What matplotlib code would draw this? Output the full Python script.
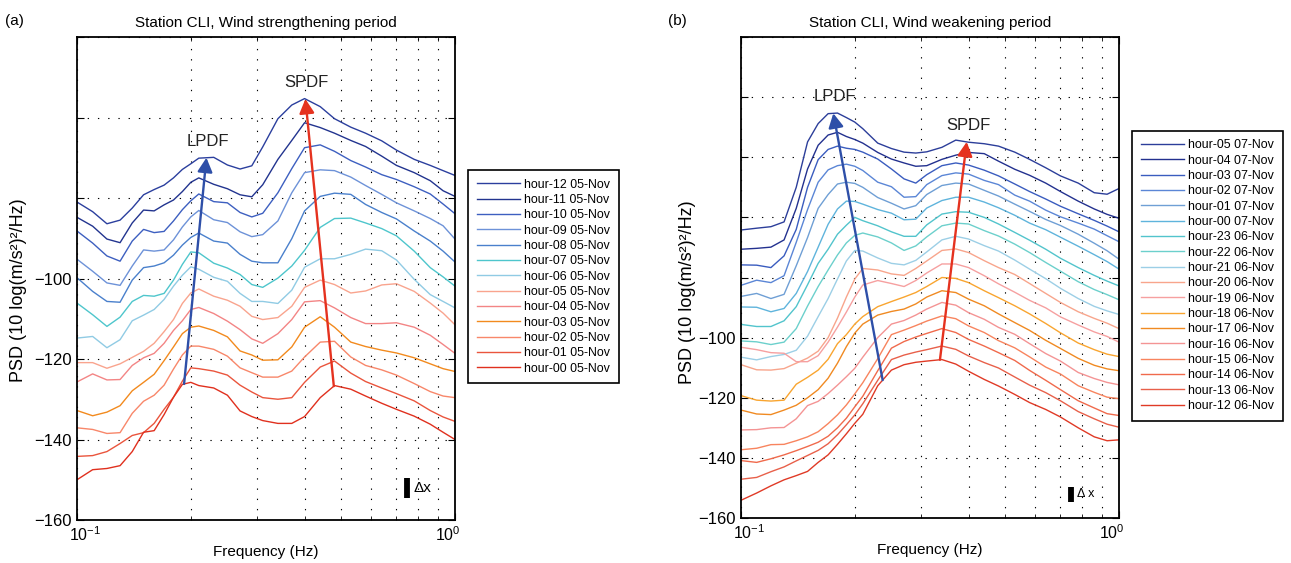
import numpy as np
import matplotlib
matplotlib.use('Agg')
import matplotlib.pyplot as plt
import matplotlib.transforms as mtransforms
from matplotlib.ticker import FixedLocator, FuncFormatter, NullFormatter

plt.rcParams['font.family'] = ['Liberation Sans', 'DejaVu Sans']
plt.rcParams['mathtext.default'] = 'regular'

# frequency grid (Hz)
freq = [0.10, 0.11, 0.12, 0.13, 0.14, 0.15, 0.16, 0.17, 0.18, 0.19, 0.20, 0.21, 0.23, 0.25, 0.27,
        0.29, 0.31, 0.34, 0.37, 0.40, 0.44, 0.48, 0.53, 0.58, 0.64, 0.70, 0.78, 0.86, 0.93, 1.00]

# ---- panel (a): wind strengthening, stacked PSD curves (dB) ----
a_h12 = [-81.0, -83.4, -86.4, -85.5, -82.5, -79.2, -77.9, -76.8, -75.0, -72.9, -71.5, -70.1, -69.9, -71.8, -72.8,
         -72.0, -67.3, -60.3, -56.9, -55.3, -57.3, -60.3, -62.4, -63.9, -65.8, -68.1, -70.4, -71.9, -73.2, -74.4]
a_h11 = [-84.8, -87.0, -90.2, -91.1, -86.2, -83.0, -83.2, -81.7, -80.5, -78.4, -76.1, -75.0, -76.6, -77.7, -79.2,
         -79.7, -76.7, -70.4, -65.7, -61.3, -62.5, -63.9, -65.7, -67.2, -69.6, -71.9, -73.7, -75.7, -78.2, -79.6]
a_h10 = [-88.2, -91.2, -94.4, -95.7, -90.7, -87.8, -88.6, -88.3, -85.7, -82.9, -80.7, -79.0, -80.9, -81.2, -83.6,
         -84.7, -83.8, -78.7, -72.7, -67.5, -66.8, -68.4, -70.7, -72.3, -74.2, -75.4, -77.2, -79.0, -81.5, -83.9]
a_h09 = [-95.2, -98.2, -101.1, -101.7, -96.9, -92.9, -93.2, -92.9, -90.4, -87.2, -84.7, -83.1, -85.4, -86.1, -88.4,
         -89.6, -89.1, -85.7, -78.7, -73.7, -73.0, -73.2, -74.8, -76.9, -79.1, -81.2, -83.2, -85.1, -86.9, -90.2]
a_h08 = [-99.8, -103.2, -105.7, -105.9, -100.4, -97.3, -96.9, -96.1, -94.2, -91.7, -89.8, -88.7, -90.7, -91.2, -94.0,
         -95.7, -96.1, -96.1, -90.1, -83.2, -79.6, -78.8, -79.1, -81.6, -83.6, -85.2, -88.2, -90.7, -93.2, -95.9]
a_h07 = [-106.1, -109.0, -111.9, -109.6, -105.7, -104.2, -104.4, -103.7, -100.4, -96.5, -93.4, -93.6, -96.2, -97.4, -99.0,
         -101.5, -102.2, -99.9, -96.9, -93.0, -87.3, -85.1, -85.0, -86.2, -87.6, -89.4, -93.2, -97.3, -99.6, -101.9]
a_h06 = [-114.8, -114.4, -117.2, -115.2, -110.5, -109.1, -107.7, -105.2, -101.9, -99.2, -97.1, -97.7, -99.7, -100.7, -103.7,
         -105.7, -105.7, -106.2, -102.9, -97.2, -95.1, -95.1, -94.0, -92.7, -93.1, -95.4, -100.2, -104.0, -105.7, -107.3]
a_h05 = [-120.9, -120.9, -122.3, -121.2, -119.6, -118.1, -116.1, -113.2, -110.2, -106.2, -103.6, -102.6, -104.4, -105.4, -106.9,
         -109.4, -110.2, -109.7, -106.9, -102.2, -100.4, -101.5, -103.6, -103.1, -101.6, -101.3, -103.2, -106.1, -108.6, -111.5]
a_h04 = [-125.7, -123.7, -125.2, -125.1, -121.6, -119.7, -118.6, -116.1, -112.9, -110.5, -107.7, -107.2, -108.7, -110.6, -112.7,
         -115.0, -116.1, -113.7, -110.2, -105.8, -105.5, -107.3, -109.7, -111.2, -111.2, -111.0, -112.1, -114.1, -116.4, -118.6]
a_h03 = [-132.8, -134.1, -133.2, -131.6, -127.9, -125.8, -123.8, -120.4, -117.0, -113.7, -112.1, -111.8, -112.9, -114.5, -118.0,
         -119.0, -120.3, -120.2, -117.0, -112.1, -109.5, -112.1, -115.8, -116.9, -117.8, -118.5, -119.7, -121.2, -122.4, -123.1]
a_h02 = [-137.1, -137.5, -138.5, -138.3, -133.5, -130.5, -129.0, -126.5, -122.5, -119.0, -116.8, -116.8, -117.6, -119.3, -122.2,
         -123.4, -124.5, -124.5, -123.0, -119.5, -115.8, -115.6, -119.5, -121.6, -122.7, -124.0, -126.1, -128.1, -129.2, -129.6]
a_h01 = [-144.2, -144.0, -143.0, -141.0, -139.0, -138.3, -136.0, -132.5, -129.5, -125.5, -122.2, -122.4, -123.0, -124.0, -126.5,
         -128.2, -129.6, -130.0, -129.6, -125.8, -122.0, -120.5, -123.5, -125.6, -127.2, -128.6, -130.4, -132.8, -134.4, -135.5]
a_h00 = [-150.0, -147.5, -147.2, -146.5, -143.0, -138.2, -137.8, -133.8, -129.5, -126.3, -125.8, -126.6, -127.2, -129.0, -132.9,
         -134.3, -135.3, -136.0, -136.0, -134.3, -129.6, -126.6, -127.5, -129.2, -131.0, -132.5, -134.2, -136.2, -138.2, -140.0]

curves_a = [a_h12, a_h11, a_h10, a_h09, a_h08, a_h07, a_h06, a_h05, a_h04, a_h03, a_h02, a_h01, a_h00]
labels_a = ['hour-12 05-Nov', 'hour-11 05-Nov', 'hour-10 05-Nov', 'hour-09 05-Nov', 'hour-08 05-Nov',
            'hour-07 05-Nov', 'hour-06 05-Nov', 'hour-05 05-Nov', 'hour-04 05-Nov', 'hour-03 05-Nov',
            'hour-02 05-Nov', 'hour-01 05-Nov', 'hour-00 05-Nov']
colors_a = ['#2b3f9e', '#22348f', '#3d5fc0', '#6d92d8', '#4a80cc', '#4ec6cc', '#90cbe4',
            '#f9a48e', '#f38585', '#f28a1e', '#f8876a', '#ea553d', '#e0301e']

# ---- panel (b): wind weakening ----
b_h05 = [-64.2, -63.6, -63.1, -61.5, -50.0, -34.9, -28.8, -25.5, -25.3, -26.8, -28.3, -30.5, -35.3, -37.1, -38.3,
         -38.6, -38.2, -36.7, -34.3, -35.0, -35.5, -36.3, -38.3, -40.7, -43.5, -46.2, -48.6, -51.8, -52.3, -50.4]
b_h04 = [-70.6, -70.3, -69.9, -67.5, -57.0, -43.9, -36.0, -32.6, -31.7, -33.1, -34.1, -35.3, -38.4, -40.6, -41.9,
         -43.0, -42.8, -40.7, -39.3, -38.4, -38.8, -41.3, -44.0, -46.0, -48.6, -51.4, -54.6, -57.2, -59.0, -60.3]
b_h03 = [-75.8, -75.9, -76.7, -72.8, -64.0, -50.0, -40.8, -37.4, -36.3, -37.0, -37.4, -38.3, -40.6, -43.9, -47.2,
         -48.6, -45.8, -42.8, -41.9, -42.6, -44.3, -46.2, -48.9, -51.4, -53.9, -56.3, -58.8, -61.0, -62.9, -64.8]
b_h02 = [-82.6, -80.9, -81.7, -79.4, -68.3, -57.4, -48.3, -44.2, -42.8, -42.3, -43.0, -44.4, -48.3, -49.8, -53.3,
         -53.1, -49.1, -46.1, -45.2, -45.6, -47.7, -49.1, -52.6, -54.6, -57.6, -59.8, -61.9, -63.9, -66.1, -68.1]
b_h01 = [-86.3, -85.3, -87.0, -85.6, -76.1, -66.7, -57.0, -52.4, -48.9, -48.3, -48.7, -50.0, -53.4, -55.3, -57.2,
         -56.1, -52.4, -49.4, -48.6, -48.9, -51.0, -52.9, -55.6, -58.0, -60.7, -62.7, -65.6, -68.6, -71.1, -73.9]
b_h00 = [-89.8, -89.9, -91.4, -90.3, -85.3, -78.0, -69.9, -62.3, -57.2, -54.6, -54.7, -55.6, -57.4, -58.6, -60.8,
         -60.6, -56.9, -54.4, -53.3, -53.3, -54.9, -56.8, -59.3, -61.9, -64.1, -66.6, -69.6, -72.4, -74.7, -77.2]
b_h23 = [-95.6, -96.3, -96.3, -94.4, -89.7, -82.4, -75.3, -70.6, -65.6, -62.6, -60.0, -61.1, -62.8, -64.8, -66.3,
         -66.3, -62.5, -58.9, -58.1, -58.3, -60.0, -62.2, -65.0, -67.6, -70.6, -73.6, -76.7, -79.3, -81.2, -82.8]
b_h22 = [-101.1, -101.4, -102.3, -101.5, -97.0, -89.5, -83.0, -77.5, -72.5, -68.5, -66.0, -65.2, -66.5, -68.5, -71.0,
         -69.5, -66.5, -62.8, -61.9, -62.2, -64.4, -66.2, -68.9, -71.7, -75.0, -77.9, -81.4, -84.0, -85.7, -87.4]
b_h21 = [-106.5, -107.4, -106.3, -105.6, -104.2, -99.5, -93.0, -87.0, -80.5, -74.5, -71.0, -71.2, -73.5, -75.3, -75.8,
         -74.3, -71.5, -67.5, -66.3, -67.2, -69.4, -71.2, -74.2, -77.2, -80.4, -83.6, -87.0, -89.6, -91.1, -92.3]
b_h20 = [-109.0, -110.7, -110.8, -110.3, -108.5, -106.8, -104.5, -100.0, -93.5, -86.5, -80.5, -77.0, -77.5, -78.8, -79.3,
         -77.0, -74.5, -71.0, -70.5, -71.7, -74.4, -76.7, -79.0, -82.0, -85.3, -88.3, -91.4, -93.6, -95.2, -97.0]
b_h19 = [-103.2, -104.0, -105.0, -105.2, -108.0, -108.0, -106.0, -101.5, -96.5, -91.5, -86.5, -82.5, -81.0, -82.0, -83.0,
         -81.0, -78.5, -75.5, -75.5, -76.7, -79.4, -82.1, -84.9, -87.6, -90.1, -93.1, -95.8, -98.1, -99.6, -101.5]
b_h18 = [-119.3, -120.8, -121.1, -120.8, -115.5, -113.2, -110.8, -107.2, -102.0, -99.0, -95.5, -93.0, -89.7, -88.0, -86.5,
         -85.0, -83.0, -80.0, -80.3, -81.7, -84.4, -86.7, -89.4, -92.1, -95.3, -98.4, -101.8, -104.0, -105.5, -106.3]
b_h17 = [-124.1, -125.4, -125.6, -124.1, -122.5, -120.0, -117.3, -113.5, -108.5, -103.0, -98.5, -95.5, -92.5, -91.3, -90.5,
         -88.8, -86.5, -84.4, -85.0, -87.2, -89.4, -92.1, -95.0, -97.6, -100.9, -103.6, -106.9, -109.2, -110.4, -111.0]
b_h16 = [-130.7, -130.6, -130.0, -129.9, -127.0, -122.6, -121.2, -118.6, -115.8, -113.0, -110.2, -106.5, -100.0, -95.5, -94.3,
         -92.5, -90.5, -88.3, -89.2, -91.7, -93.9, -96.6, -98.9, -102.0, -105.3, -107.8, -111.6, -113.6, -114.9, -115.7]
b_h15 = [-137.3, -136.8, -135.6, -135.5, -134.3, -133.0, -131.3, -128.6, -125.7, -122.4, -118.7, -115.0, -107.0, -99.0, -97.5,
         -96.0, -94.5, -92.8, -93.7, -96.1, -98.3, -101.0, -103.4, -106.4, -109.8, -112.1, -116.0, -118.2, -119.8, -120.3]
b_h14 = [-140.9, -141.5, -140.3, -139.0, -137.6, -136.2, -134.8, -132.8, -130.0, -126.8, -123.0, -119.5, -111.0, -103.5, -101.3,
         -99.8, -98.6, -97.0, -98.3, -100.6, -102.8, -105.0, -107.6, -110.9, -114.2, -117.3, -121.0, -123.4, -125.3, -125.9]
b_h13 = [-147.1, -146.5, -144.6, -143.0, -141.0, -139.2, -137.5, -135.3, -132.3, -129.0, -125.7, -122.0, -114.2, -107.3, -105.8,
         -104.8, -104.0, -102.8, -103.9, -106.1, -108.3, -110.1, -113.1, -115.8, -118.3, -121.0, -124.6, -127.0, -128.8, -129.8]
b_h12 = [-154.1, -151.7, -149.3, -147.3, -145.9, -144.5, -141.5, -139.0, -135.5, -132.0, -128.5, -125.5, -116.0, -110.8, -109.0,
         -108.2, -107.8, -107.3, -108.8, -111.2, -113.9, -116.1, -118.9, -121.6, -123.9, -126.4, -130.0, -133.0, -134.3, -134.0]

curves_b = [b_h05, b_h04, b_h03, b_h02, b_h01, b_h00, b_h23, b_h22, b_h21, b_h20, b_h19, b_h18,
            b_h17, b_h16, b_h15, b_h14, b_h13, b_h12]
labels_b = ['hour-05 07-Nov', 'hour-04 07-Nov', 'hour-03 07-Nov', 'hour-02 07-Nov', 'hour-01 07-Nov',
            'hour-00 07-Nov', 'hour-23 06-Nov', 'hour-22 06-Nov', 'hour-21 06-Nov', 'hour-20 06-Nov',
            'hour-19 06-Nov', 'hour-18 06-Nov', 'hour-17 06-Nov', 'hour-16 06-Nov', 'hour-15 06-Nov',
            'hour-14 06-Nov', 'hour-13 06-Nov', 'hour-12 06-Nov']
colors_b = ['#2c3e9a', '#23318f', '#3a5cbf', '#5b86d6', '#6f9fd5', '#5fb4dc', '#52c4cc', '#6cd0cc',
            '#9ccfe6', '#f8a58c', '#f6a0a0', '#f9a530', '#f08a22', '#f49494', '#f8845e', '#f06a4c',
            '#e8604a', '#e03a26']

# peak-drift arrows: (frequency at top curve, frequency at bottom curve)
lpdf_a = (0.220, 0.192)
spdf_a = (0.402, 0.478)
lpdf_b = (0.1755, 0.237)
spdf_b = (0.3955, 0.336)
dx_db = 5  # stacking offset scale bar (dB)


def on_curve(f, curve):
    return float(np.interp(np.log10(f), np.log10(freq), curve))


def ylab(v, pos):
    return f'{v:.0f}'.replace('-', '\u2212') if v <= -100 else ''


def draw(ax, curves, labels, colors, ylim, title, lpdf, spdf, dx_fs, dx_text, ylab_xy):
    for y, lab, c in zip(curves, labels, colors):
        ax.plot(freq, y, color=c, lw=1.0, label=lab)
    ax.set_xscale('log')
    ax.set_xlim(0.1, 1.0)
    ax.set_ylim(*ylim)
    ax.set_xticks([0.1, 1.0])
    ax.xaxis.set_minor_formatter(NullFormatter())
    ax.yaxis.set_major_locator(FixedLocator(np.arange(-160, ylim[1] + 1, 20)))
    ax.yaxis.set_major_formatter(FuncFormatter(ylab))
    dots = (0, (1.2, 8))
    ax.grid(True, which='both', axis='x', color='k', lw=0.8, linestyle=dots)
    ax.grid(True, which='major', axis='y', color='k', lw=0.8, linestyle=dots)
    ax.tick_params(which='both', direction='in', top=True, right=True)
    ax.tick_params(axis='y', labelsize=12)
    ax.tick_params(axis='x', labelsize=11.5)
    ax.tick_params(which='major', length=5)
    ax.tick_params(which='minor', length=3)
    for s in ax.spines.values():
        s.set_linewidth(1.3)
    # MATLAB keeps the end decade labels inside the axis span
    for lab, shift in zip(ax.get_xticklabels(), (0.08, -0.07)):
        lab.set_transform(lab.get_transform() +
                          mtransforms.ScaledTranslation(shift, 0, ax.figure.dpi_scale_trans))
    ax.set_title(title, fontsize=11, pad=7)
    ax.set_xlabel('Frequency (Hz)', fontsize=11, labelpad=1)
    ax.set_ylabel('PSD (10 log(m/s\u00b2)\u00b2/Hz)', fontsize=13)
    ax.yaxis.set_label_coords(*ylab_xy)

    for (ftop, fbot), name, col in ((lpdf, 'LPDF', '#2e4fa8'), (spdf, 'SPDF', '#e5321f')):
        tip = (ftop, on_curve(ftop, curves[0]))
        base = (fbot, on_curve(fbot, curves[-1]))
        ax.annotate('', xy=tip, xytext=base,
                    arrowprops=dict(arrowstyle='-|>,head_length=0.85,head_width=0.45',
                                    mutation_scale=10, color=col, lw=1.7,
                                    shrinkA=0, shrinkB=0))
        ax.annotate(name, xy=tip, xytext=(1, 12), textcoords='offset points',
                    ha='center', va='center', fontsize=12, color='#222222')

    # stacking scale bar
    ax.plot([0.748, 0.748], [-154.6, -154.6 + dx_db], color='k', lw=4.2, solid_capstyle='butt')
    ax.text(0.775, -154.6 + dx_db / 2, dx_text, fontsize=dx_fs, va='center', ha='left')

    leg = ax.legend(loc='center left', bbox_to_anchor=(1.034, 0.504), fontsize=8.9,
                    frameon=True, fancybox=False, edgecolor='k', framealpha=1,
                    handlelength=3.5, handletextpad=0.35, labelspacing=0.27,
                    borderpad=0.7, borderaxespad=0)
    leg.get_frame().set_linewidth(1.2)


fig = plt.figure(figsize=(12.91, 5.63), dpi=100)
ax_a = fig.add_axes([77 / 1291, 43 / 563, 378 / 1291, 483 / 563])
ax_b = fig.add_axes([741 / 1291, 45 / 563, 378 / 1291, 481 / 563])

draw(ax_a, curves_a, labels_a, colors_a, (-160, -40), 'Station CLI, Wind strengthening period',
     lpdf_a, spdf_a, 11, '\u0394x', (-0.132, 0.476))
draw(ax_b, curves_b, labels_b, colors_b, (-160, 0), 'Station CLI, Wind weakening period',
     lpdf_b, spdf_b, 9, '\u0394 x', (-0.118, 0.47))

fig.text(5 / 1291, 1 - 21 / 563, '(a)', fontsize=11, va='center', ha='left')
fig.text(668 / 1291, 1 - 21 / 563, '(b)', fontsize=11, va='center', ha='left')

fig.savefig('out.png', dpi=100)
